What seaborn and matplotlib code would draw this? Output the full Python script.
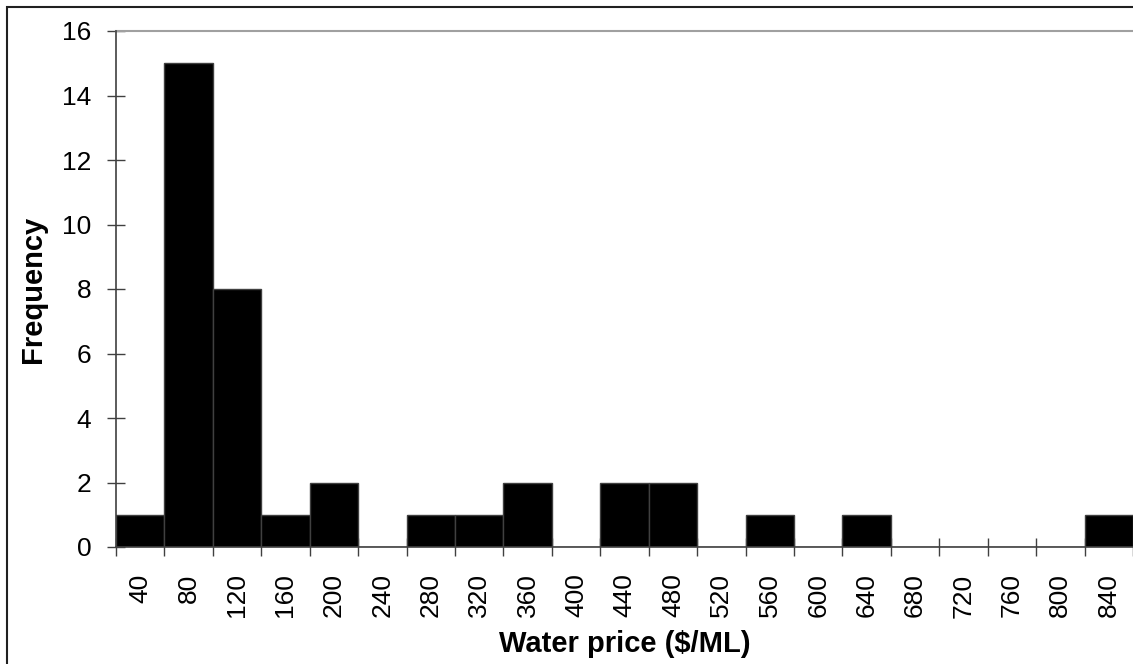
import pandas as pd
import seaborn as sns
import matplotlib.pyplot as plt
from matplotlib.patches import Rectangle

sns.set_style("white")
plt.rcParams['font.family'] = ['Liberation Sans', 'DejaVu Sans']
plt.rcParams['text.color'] = 'black'
plt.rcParams['axes.labelcolor'] = 'black'

prices = [40, 80, 120, 160, 200, 240, 280, 320, 360, 400, 440,
          480, 520, 560, 600, 640, 680, 720, 760, 800, 840]
frequency = [1, 15, 8, 1, 2, 0, 1, 1, 2, 0, 2,
             2, 0, 1, 0, 1, 0, 0, 0, 0, 1]

df = pd.DataFrame({"price": [str(p) for p in prices], "freq": frequency})

fig = plt.figure(figsize=(11.33, 6.64), dpi=100)
ax = fig.add_axes([116 / 1133, 1 - 547 / 664, 1 - 116 / 1133, (547 - 31) / 664])

sns.barplot(data=df, x="price", y="freq", color="black", width=1.0,
            edgecolor="#404040", linewidth=1, saturation=1, ax=ax)
# bars sit on top of the crossing tick marks, like the original
ax.set_axisbelow(True)

ax.set_xlim(-0.5, len(prices) - 0.5)
ax.set_ylim(0, 16)
ax.set_yticks(range(0, 17, 2))
ax.set_xticks(range(len(prices)))
ax.set_xticklabels([str(p) for p in prices], rotation=90)
ax.set_xticks([i - 0.5 for i in range(len(prices) + 1)], minor=True)

ax.tick_params(axis="x", which="major", length=0, pad=19, labelsize=19,
               labelcolor="black")
ax.tick_params(axis="x", which="minor", length=13.5, width=1, color="#404040",
               direction="inout", bottom=True)
ax.tick_params(axis="y", length=13.5, width=1, color="#404040", direction="inout",
               left=True, pad=11, labelsize=19, labelcolor="black")

ax.spines["right"].set_visible(False)
ax.spines["top"].set_color("#a0a0a0")
ax.spines["top"].set_linewidth(1.5)
for side in ["left", "bottom"]:
    ax.spines[side].set_color("#404040")
    ax.spines[side].set_linewidth(1.2)
    ax.spines[side].set_zorder(3)

ax.set_xlabel("Water price ($/ML)", fontsize=21, fontweight="bold")
ax.set_ylabel("Frequency", fontsize=21, fontweight="bold")
ax.xaxis.set_label_coords(0.5, (547 - 630) / 516)
ax.yaxis.set_label_coords((47 - 116) / 1017, 0.5)

fig.patches.append(Rectangle((7 / 1133, -0.1), 2, 1.1 - 7 / 664, transform=fig.transFigure,
                             fill=False, edgecolor="#202020", linewidth=1.5))

fig.savefig("out.png", dpi=100)
